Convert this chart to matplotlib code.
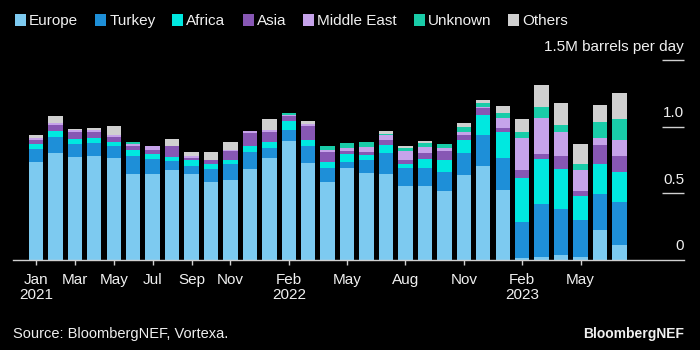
import matplotlib
matplotlib.use("Agg")
import matplotlib.pyplot as plt
import matplotlib.transforms as mtransforms
from matplotlib.patches import Rectangle
import numpy as np
import pandas as pd

plt.rcParams['font.family'] = ['Liberation Sans', 'DejaVu Sans']

# ---- data (million barrels per day) ----
months = [str(p) for p in pd.period_range("2021-01", "2023-07", freq="M")]

europe = [0.73, 0.80, 0.77, 0.78, 0.76, 0.645, 0.64, 0.67, 0.64, 0.58, 0.60, 0.68,
          0.76, 0.89, 0.725, 0.58, 0.685, 0.65, 0.64, 0.555, 0.555, 0.515, 0.635, 0.70,
          0.52, 0.01, 0.02, 0.035, 0.02, 0.22, 0.11]
turkey = [0.10, 0.12, 0.095, 0.095, 0.095, 0.135, 0.115, 0.07, 0.06, 0.10, 0.12, 0.125,
          0.075, 0.08, 0.13, 0.11, 0.045, 0.095, 0.16, 0.135, 0.135, 0.14, 0.165, 0.235,
          0.24, 0.275, 0.40, 0.345, 0.275, 0.275, 0.325]
africa = [0.037, 0.045, 0.04, 0.035, 0.025, 0.04, 0.04, 0.03, 0.045, 0.04, 0.03, 0.05,
          0.05, 0.07, 0.04, 0.045, 0.06, 0.04, 0.06, 0.025, 0.063, 0.09, 0.095, 0.155,
          0.20, 0.33, 0.335, 0.30, 0.185, 0.22, 0.22]
asia = [0.03, 0.045, 0.055, 0.045, 0.04, 0.03, 0.03, 0.085, 0.02, 0.03, 0.065, 0.095,
        0.075, 0.04, 0.11, 0.07, 0.025, 0.02, 0.04, 0.03, 0.05, 0.07, 0.04, 0.05,
        0.03, 0.06, 0.04, 0.095, 0.035, 0.145, 0.125]
middle_east = [0.02, 0.02, 0.013, 0.015, 0.015, 0.015, 0.03, 0.0, 0.01, 0.0, 0.01, 0.015,
               0.01, 0.01, 0.015, 0.02, 0.02, 0.04, 0.035, 0.07, 0.04, 0.02, 0.02, 0.01,
               0.075, 0.24, 0.27, 0.18, 0.16, 0.055, 0.12]
unknown = [0, 0, 0, 0, 0, 0.015, 0, 0, 0, 0, 0, 0,
           0, 0.015, 0, 0.025, 0.04, 0.04, 0.01, 0.02, 0.03, 0.035, 0.04, 0.03,
           0.04, 0.045, 0.085, 0.06, 0.045, 0.12, 0.16]
others = [0.02, 0.05, 0.01, 0.015, 0.065, 0, 0, 0.05, 0.035, 0.055, 0.055, 0,
          0.09, 0, 0.02, 0, 0, 0, 0.02, 0.015, 0.02, 0, 0.03, 0.02,
          0.05, 0.10, 0.165, 0.165, 0.15, 0.125, 0.19]

series_names = ["Europe", "Turkey", "Africa", "Asia", "Middle East", "Unknown", "Others"]
series_values = [europe, turkey, africa, asia, middle_east, unknown, others]
series_colors = ["#7DCAF0", "#1E8FD8", "#00E8E0", "#8757B4", "#C6A3EA", "#19CCA8", "#D0D0D0"]

tick_months = ["2021-01", "2021-03", "2021-05", "2021-07", "2021-09", "2021-11",
               "2022-02", "2022-05", "2022-08", "2022-11", "2023-02", "2023-05"]
tick_labels = ["Jan\n2021", "Mar", "May", "Jul", "Sep", "Nov",
               "Feb\n2022", "May", "Aug", "Nov", "Feb\n2023", "May"]

y_ticks = [0, 0.5, 1.0, 1.5]
y_tick_labels = ["0", "0.5", "1.0", "1.5M barrels per day"]

# ---- figure ----
W, H = 700, 350
fig = plt.figure(figsize=(W / 100, H / 100), dpi=100, facecolor="black")
ax = fig.add_axes([13 / W, 90.5 / H, 671 / W, 199.5 / H])
ax.set_facecolor("black")

x = np.arange(len(months))
bottom = np.zeros(len(months))
for name, vals, col in zip(series_names, series_values, series_colors):
    v = np.array(vals, dtype=float)
    ax.bar(x, v, bottom=bottom, width=0.74, color=col, linewidth=0, label=name)
    bottom += v

ax.set_xlim(-1.18, 33.32)
ax.set_ylim(0, 1.5)

for s in ["top", "right", "left"]:
    ax.spines[s].set_visible(False)
ax.spines["bottom"].set_color("#d0d0d0")
ax.spines["bottom"].set_linewidth(1.0)

ax.set_xticks([months.index(m) for m in tick_months])
ax.set_xticklabels(tick_labels, fontsize=11, color="#f0f0f0", linespacing=1.15)
ax.tick_params(axis="x", length=3.6, width=1, color="#d0d0d0", pad=6)
ax.set_yticks([])

# right-side y labels with short lines
trans = mtransforms.blended_transform_factory(ax.transAxes, ax.transData)
for yv, lab in zip(y_ticks, y_tick_labels):
    if yv > 0:
        ax.plot([0.967, 1.0], [yv, yv], transform=trans, color="#d0d0d0", lw=1,
                clip_on=False, solid_capstyle="butt")
    ax.annotate(lab, xy=(1.0, yv), xycoords=trans, xytext=(0, 6.5),
                textcoords="offset points", ha="right", va="baseline",
                fontsize=11, color="#f0f0f0", annotation_clip=False)

# legend (manual)
fig.canvas.draw()
renderer = fig.canvas.get_renderer()
xpos = 15
y_base = H - 25
sq = 11
for name, col in zip(series_names, series_colors):
    fig.patches.append(Rectangle((xpos / W, (H - 25.5) / H), sq / W, sq / H,
                                 transform=fig.transFigure, facecolor=col,
                                 edgecolor="none", figure=fig))
    t = fig.text((xpos + 14) / W, y_base / H, name, fontsize=11, color="#f0f0f0",
                 ha="left", va="baseline")
    bb = t.get_window_extent(renderer=renderer)
    xpos = bb.x1 + 17

fig.text(13 / W, (H - 338) / H, "Source: BloombergNEF, Vortexa.", fontsize=10.5,
         color="#f0f0f0", ha="left", va="baseline")
fig.text(684 / W, (H - 338) / H, "BloombergNEF", fontsize=10, fontweight="bold",
         color="#f0f0f0", ha="right", va="baseline")

fig.savefig("out.png", dpi=100, facecolor="black")
